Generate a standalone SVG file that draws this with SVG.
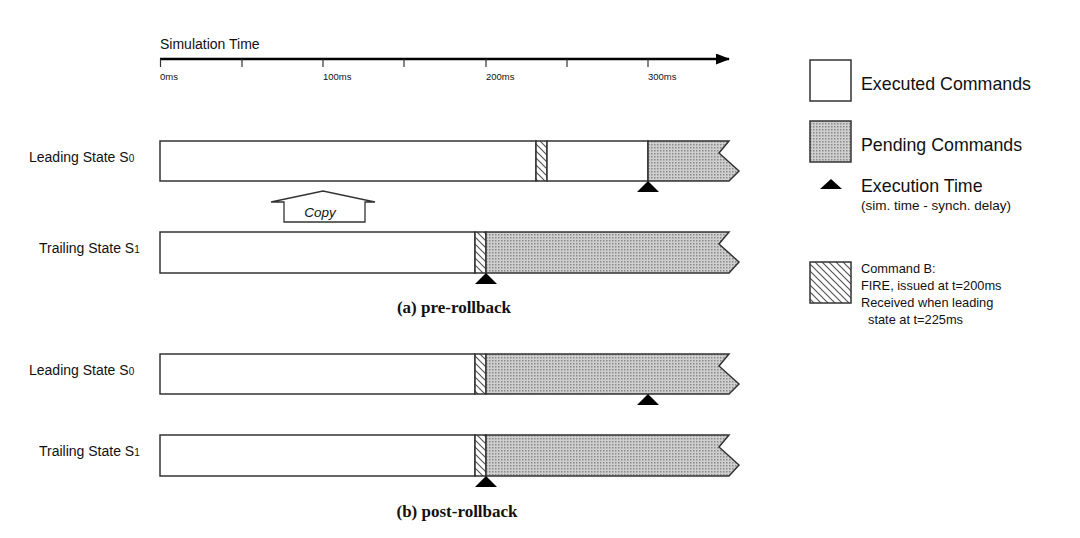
<svg xmlns="http://www.w3.org/2000/svg" width="1080" height="538" viewBox="0 0 1080 538">
<style>
.lbl{font-family:"Liberation Sans",Arial,sans-serif;fill:#111}
.ax{font-family:"Liberation Sans",Arial,sans-serif;font-size:9.5px;fill:#111}
.cap{font-family:"Liberation Serif","Times New Roman",serif;font-weight:bold;font-size:17px;fill:#111}
.ex{fill:#fff;stroke:#333;stroke-width:1.5}
.pd{fill:url(#dots);stroke:#333;stroke-width:1.5}
.ht{fill:url(#hatch);stroke:#333;stroke-width:1.5}
.tri{fill:#000}
.axl{stroke:#000;stroke-width:2.5;fill:none}
.tick{stroke:#333;stroke-width:1.2}
</style>
<defs>
<pattern id="dots" width="3" height="3" patternUnits="userSpaceOnUse">
<rect width="3" height="3" fill="#cfcfcf"/>
<rect width="1.5" height="1.5" fill="#8a8a8a"/>
</pattern>
<pattern id="hatch" width="7" height="7" patternUnits="userSpaceOnUse">
<rect width="7" height="7" fill="#fff"/>
<path d="M-1,-1 L8,8 M-4.5,2.5 L2.5,9.5 M2.5,-4.5 L9.5,2.5" stroke="#555" stroke-width="1.2"/>
</pattern>
<marker id="ah" markerWidth="14" markerHeight="11" refX="13" refY="5.5" orient="auto" markerUnits="userSpaceOnUse">
<path d="M0,0 L14,5.5 L0,11 Z" fill="#000"/>
</marker>
</defs>
<rect width="1080" height="538" fill="#fff"/>

<g id="axis">
<text class="lbl" x="160" y="49" font-size="14">Simulation Time</text>
<line class="axl" x1="160" y1="59" x2="729" y2="59" marker-end="url(#ah)"/>
<line class="tick" x1="160.5" y1="59" x2="160.5" y2="67"/>
<line class="tick" x1="242" y1="59" x2="242" y2="67"/>
<line class="tick" x1="323" y1="59" x2="323" y2="67"/>
<line class="tick" x1="404" y1="59" x2="404" y2="67"/>
<line class="tick" x1="486" y1="59" x2="486" y2="67"/>
<line class="tick" x1="567" y1="59" x2="567" y2="67"/>
<line class="tick" x1="648" y1="59" x2="648" y2="67"/>
<text class="ax" x="160" y="80">0ms</text>
<text class="ax" x="323" y="80">100ms</text>
<text class="ax" x="486" y="80">200ms</text>
<text class="ax" x="648" y="80">300ms</text>
</g>

<g id="pre-leading">
<text class="lbl" x="29" y="162" font-size="14">Leading State S<tspan font-size="10">0</tspan></text>
<rect class="ex" x="160" y="141" width="376" height="40"/>
<rect class="ht" x="536" y="141" width="11" height="40"/>
<rect class="ex" x="547" y="141" width="101" height="40"/>
<polygon class="pd" points="648,141 729,141 719,153 739,171 729,181 648,181"/>
<polygon class="tri" points="648,181 659,192 637,192"/>
</g>

<g id="copy">
<polygon points="271,202 323,191 375,202 365,202 365,222 284,222 284,202" fill="#fff" stroke="#333" stroke-width="1.3"/>
<text class="lbl" x="320" y="217" font-size="13.5" font-style="italic" text-anchor="middle">Copy</text>
</g>

<g id="pre-trailing">
<text class="lbl" x="39" y="253" font-size="14">Trailing State S<tspan font-size="10">1</tspan></text>
<rect class="ex" x="160" y="232" width="315" height="41"/>
<rect class="ht" x="475" y="232" width="11" height="41"/>
<polygon class="pd" points="486,232 729,232 719,244 739,262 729,273 486,273"/>
<polygon class="tri" points="486,273 497,284 475,284"/>
</g>

<text class="cap" x="454" y="313" text-anchor="middle">(a) pre-rollback</text>

<g id="post-leading">
<text class="lbl" x="29" y="375" font-size="14">Leading State S<tspan font-size="10">0</tspan></text>
<rect class="ex" x="160" y="354" width="315" height="40"/>
<rect class="ht" x="475" y="354" width="11" height="40"/>
<polygon class="pd" points="486,354 729,354 719,366 739,384 729,394 486,394"/>
<polygon class="tri" points="648,394 659,405 637,405"/>
</g>

<g id="post-trailing">
<text class="lbl" x="39" y="456" font-size="14">Trailing State S<tspan font-size="10">1</tspan></text>
<rect class="ex" x="160" y="435" width="315" height="41"/>
<rect class="ht" x="475" y="435" width="11" height="41"/>
<polygon class="pd" points="486,435 729,435 719,447 739,465 729,476 486,476"/>
<polygon class="tri" points="486,476 497,487 475,487"/>
</g>

<text class="cap" x="457" y="517" text-anchor="middle">(b) post-rollback</text>

<g id="legend">
<rect class="ex" x="810" y="60" width="41" height="41"/>
<text class="lbl" x="861" y="90" font-size="17.8">Executed Commands</text>
<rect class="pd" x="810" y="121" width="41" height="41"/>
<text class="lbl" x="861" y="151" font-size="17.8">Pending Commands</text>
<polygon class="tri" points="831,179 842,189 820,189"/>
<text class="lbl" x="861" y="192" font-size="17.8">Execution Time</text>
<text class="lbl" x="861" y="210" font-size="13.5">(sim. time - synch. delay)</text>
<rect class="ht" x="810" y="262" width="41" height="41"/>
<text class="lbl" x="861" y="273" font-size="12.8">Command B:</text>
<text class="lbl" x="861" y="290" font-size="12.8">FIRE, issued at t=200ms</text>
<text class="lbl" x="861" y="307" font-size="12.8">Received when leading</text>
<text class="lbl" x="868" y="324" font-size="12.8">state at t=225ms</text>
</g>
</svg>
